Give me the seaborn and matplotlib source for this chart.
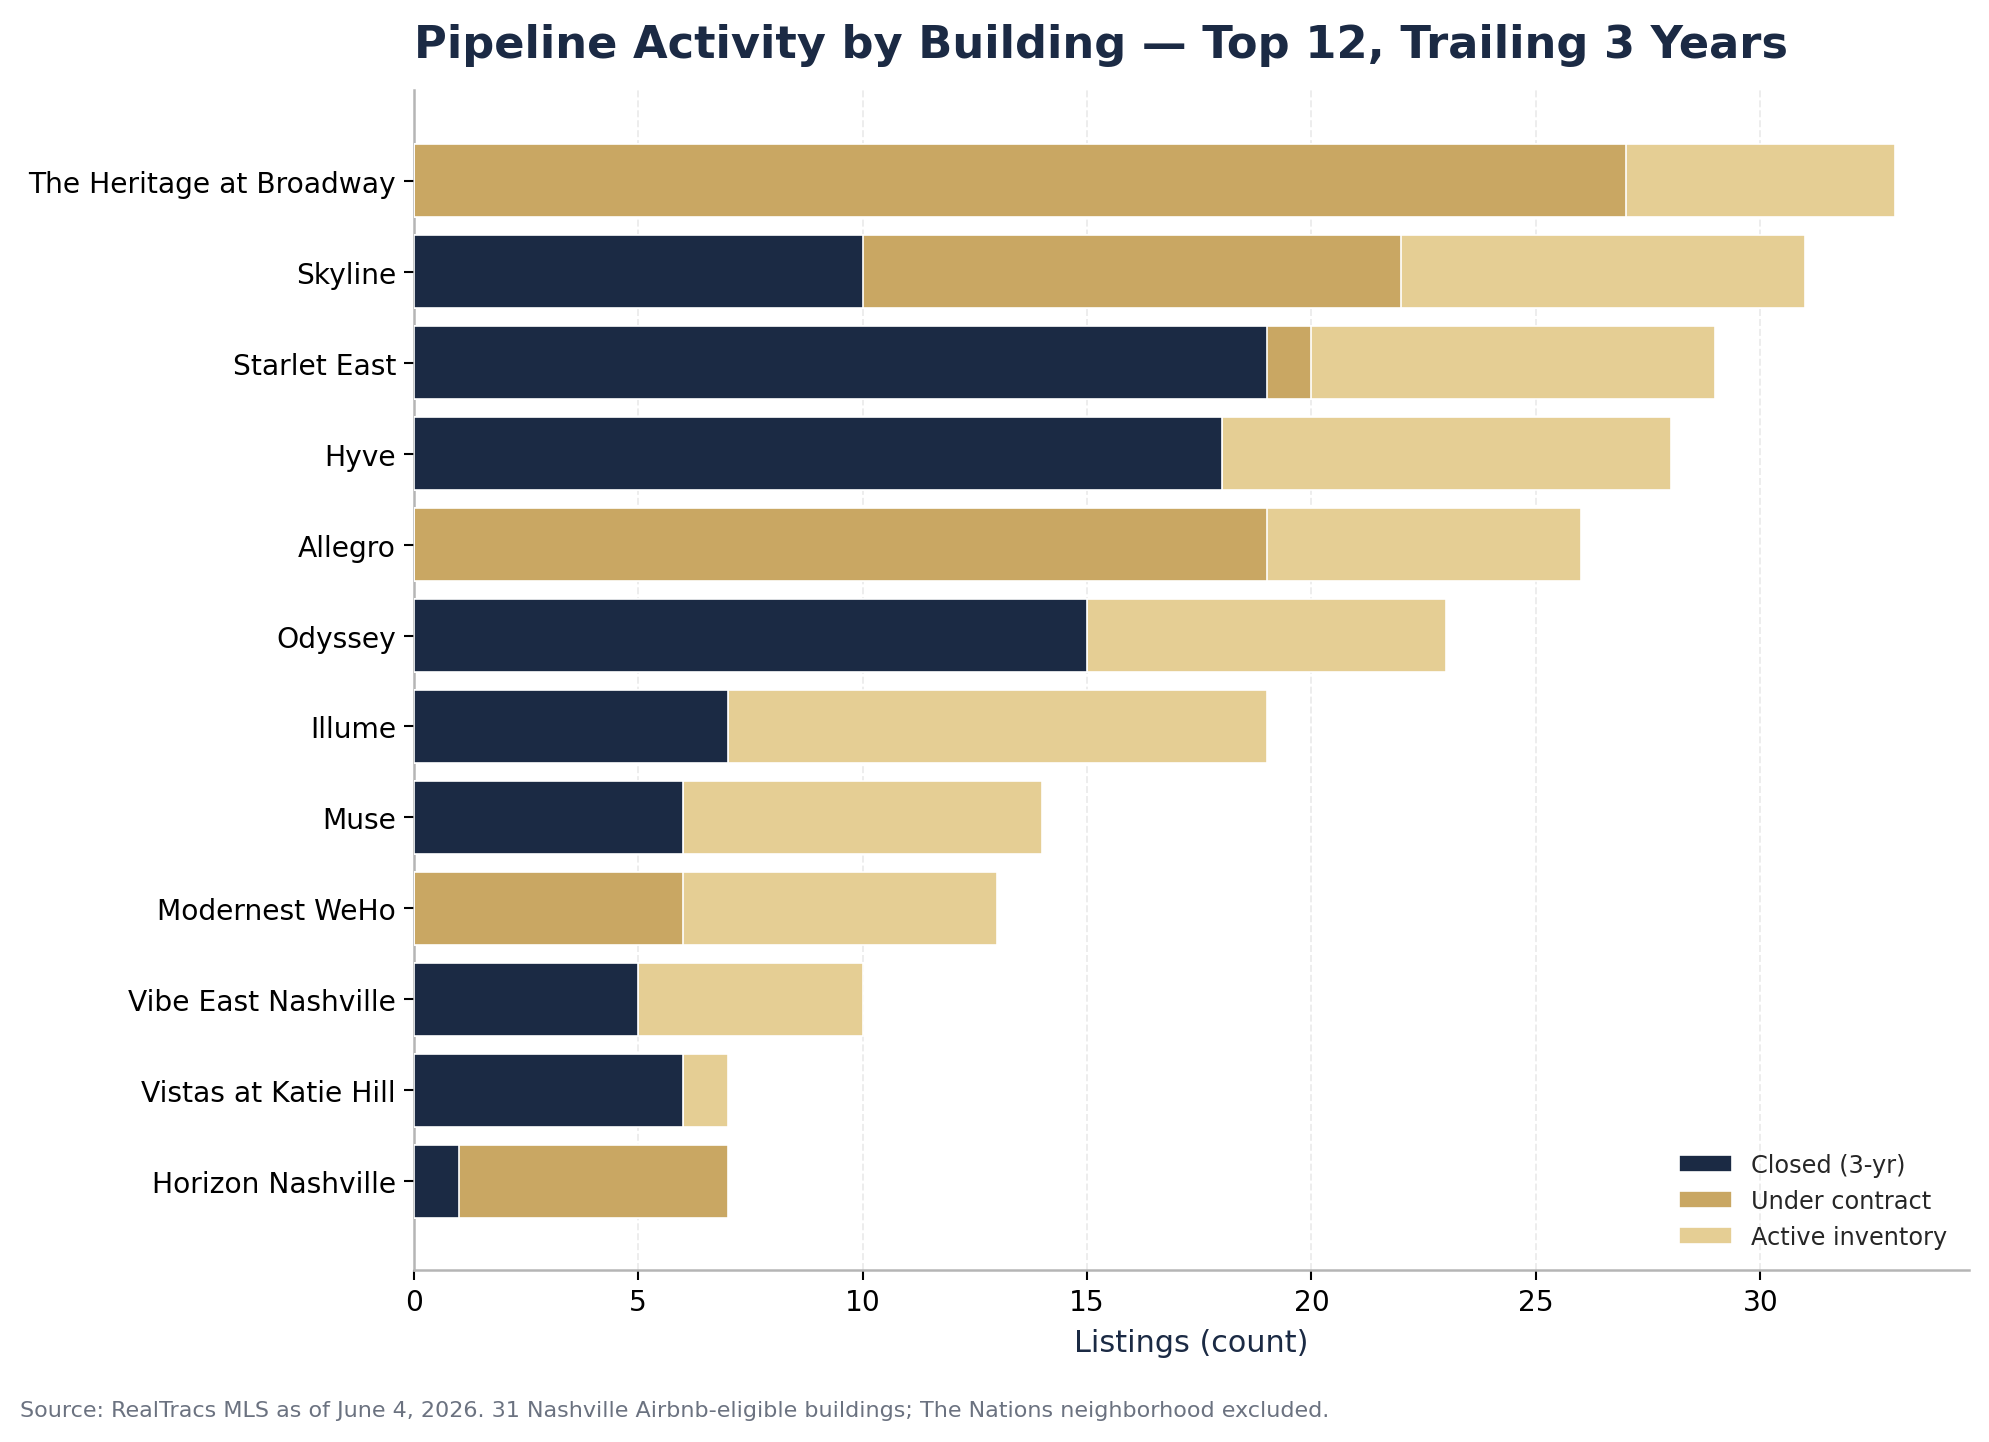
import numpy as np
import pandas as pd
import matplotlib
matplotlib.use("Agg")
import matplotlib.pyplot as plt
import seaborn as sns

buildings = ["The Heritage at Broadway", "Skyline", "Starlet East", "Hyve", "Allegro",
             "Odyssey", "Illume", "Muse", "Modernest WeHo", "Vibe East Nashville",
             "Vistas at Katie Hill", "Horizon Nashville"]
closed = [0, 10, 19, 18, 0, 15, 7, 6, 0, 5, 6, 1]
under_contract = [27, 12, 1, 0, 19, 0, 0, 0, 6, 0, 0, 6]
active = [6, 9, 9, 10, 7, 8, 12, 8, 7, 5, 1, 0]

NAVY = "#1B2A44"
GOLD = "#C9A763"
SAND = "#E5CE94"

df = pd.DataFrame({"building": buildings, "closed": closed,
                   "under_contract": under_contract, "active": active})
df["cu"] = df["closed"] + df["under_contract"]
df["total"] = df["cu"] + df["active"]

sns.set_style("white")
plt.rcParams["font.family"] = ["DejaVu Sans"]

fig, ax = plt.subplots(figsize=(13.26, 9.62), dpi=150)
fig.subplots_adjust(left=0.208, right=0.99, top=0.937, bottom=0.119)

# stacked bars drawn back to front
for col, c, lab in [("total", SAND, "Active inventory"),
                    ("cu", GOLD, "Under contract"),
                    ("closed", NAVY, "Closed (3-yr)")]:
    sns.barplot(data=df, x=col, y="building", color=c, saturation=1, width=0.8,
                edgecolor="white", linewidth=0.8, ax=ax, label=lab, zorder=3)

ax.set_xlim(0, df["total"].max() * 1.05)
ax.set_ylim(len(buildings) - 0.02, -1.0)
ax.xaxis.grid(True, linestyle="--", color="#ececec", linewidth=0.9, zorder=0)
ax.yaxis.grid(False)
ax.set_axisbelow(True)

for s in ["top", "right"]:
    ax.spines[s].set_visible(False)
for s in ["left", "bottom"]:
    ax.spines[s].set_color("#b5b5b5")
    ax.spines[s].set_linewidth(1.2)

ax.tick_params(axis="both", which="both", length=5, width=1, color="black",
               bottom=True, left=True, labelsize=13.5, labelcolor="black")
ax.set_ylabel("")
ax.set_xlabel("Listings (count)", fontsize=14.5, color=NAVY, labelpad=6)

handles, labels = ax.get_legend_handles_labels()
order = ["Closed (3-yr)", "Under contract", "Active inventory"]
hmap = dict(zip(labels, handles))
ax.legend([hmap[o] for o in order], order, loc="lower right", frameon=False,
          fontsize=11.5, handlelength=2.2)

ax.set_title("Pipeline Activity by Building \u2014 Top 12, Trailing 3 Years",
             loc="left", fontsize=21.5, fontweight="bold", color=NAVY, pad=16)

fig.text(0.01, 0.018, "Source: RealTracs MLS as of June 4, 2026. 31 Nashville Airbnb-eligible "
         "buildings; The Nations neighborhood excluded.", fontsize=10.7, color="#6b7280")

fig.savefig("out.png", dpi=150)
